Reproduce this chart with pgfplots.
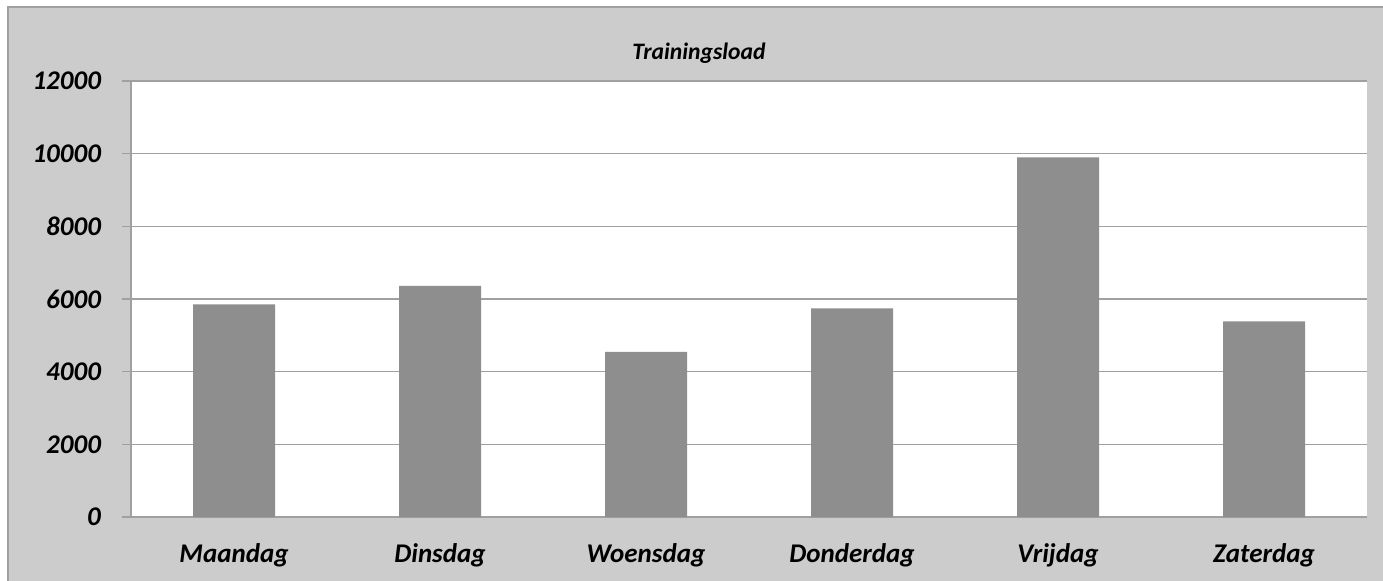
\documentclass[border=0pt]{standalone}
\usepackage{pgfplots}
\pgfplotsset{compat=1.18}
\usepackage{fontspec}
\setmainfont{Carlito}
\definecolor{bg}{HTML}{CCCCCC}
\definecolor{barc}{HTML}{8E8E8E}
\definecolor{gridc}{HTML}{A0A0A0}
\begin{document}
\begin{tikzpicture}[x=0.5pt,y=0.5pt]
\clip (0,0) rectangle (1383,580);
\fill[white] (0,0) rectangle (1383,580);
\draw[gridc, fill=bg, line width=1pt] (8,573) rectangle (1400,-20);
\node[font=\fontsize{11.8}{14}\selectfont\bfseries\itshape] at (699,527) {Trainingsload};
\begin{axis}[
  at={(65.5pt,31.5pt)}, anchor=south west,
  scale only axis, width=618pt, height=218pt,
  axis background/.style={fill=white},
  xmin=0.5, xmax=6.5, ymin=0, ymax=12000,
  ytick={0,2000,...,12000},
  scaled y ticks=false,
  xtick={1,...,6},
  xticklabels={Maandag,Dinsdag,Woensdag,Donderdag,Vrijdag,Zaterdag},
  major x tick style={draw=none},
  extra x ticks={0.5,1.5,...,6.5},
  extra x tick labels={},
  extra x tick style={grid=none, major tick length=3.5pt, tick style={gridc, line width=0.8pt, draw=gridc}},
  tick align=outside,
  major tick length=4.5pt,
  y tick style={gridc, line width=0.8pt},
  axis x line*=bottom, axis y line*=left,
  axis line style={gridc, line width=0.8pt},
  ymajorgrids, grid style={gridc, line width=0.8pt},
  /pgf/number format/assume math mode=true,
  /pgf/number format/1000 sep={},
  ticklabel style={font=\fontsize{13.5}{16}\selectfont\bfseries\itshape, text=black},
  yticklabel style={xshift=-7pt},
  xticklabel style={yshift=-5pt},
  ybar, bar width=41pt,
]
\addplot[fill=barc, draw=none] coordinates {(1,5854) (2,6358) (3,4545) (4,5744) (5,9900) (6,5386)};
\end{axis}
\end{tikzpicture}
\end{document}
